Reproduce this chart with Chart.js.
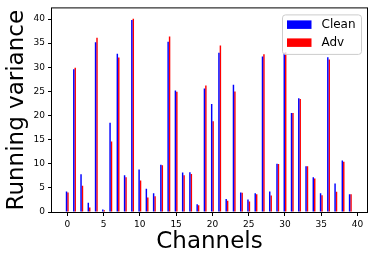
<!DOCTYPE html>
<html>
<head>
<meta charset="utf-8">
<script src="https://cdn.jsdelivr.net/npm/chart.js@4"></script>
<style>
    html, body { margin: 0; padding: 0; background: #ffffff; }
    canvas { display: block; }
</style>
</head>
<body>
<canvas class="var-chart" width="374" height="261"></canvas>
<script>
const channels = [0, 1, 2, 3, 4, 5, 6, 7, 8, 9, 10, 11, 12, 13, 14, 15, 16, 17, 18, 19,
    20, 21, 22, 23, 24, 25, 26, 27, 28, 29, 30, 31, 32, 33, 34, 35, 36, 37, 38, 39];
const cleanVar = [4.25, 29.6, 7.8, 1.9, 35.2, 0.5, 18.5, 32.8, 7.6, 39.8,
    8.8, 4.8, 3.9, 9.8, 35.3, 25.2, 8.2, 8.25, 1.6, 25.6,
    22.4, 33.0, 2.7, 26.4, 4.05, 2.6, 3.9, 32.25, 4.25, 10.0,
    33.0, 20.5, 23.6, 9.5, 7.2, 3.9, 32.1, 5.9, 10.7, 3.7];
const advVar = [4.05, 29.9, 5.45, 0.95, 36.1, 0.35, 14.6, 32.0, 7.2, 40.05,
    6.55, 3.0, 3.25, 9.7, 36.4, 24.95, 7.6, 7.9, 1.4, 26.2,
    18.8, 34.5, 2.35, 25.0, 4.0, 2.2, 3.7, 32.7, 3.4, 9.95,
    33.1, 20.5, 23.4, 9.5, 6.95, 3.45, 31.6, 4.2, 10.4, 3.7];
const xTicks = [0, 5, 10, 15, 20, 25, 30, 35, 40];
const yTicks = [0, 5, 10, 15, 20, 25, 30, 35, 40];

Chart.defaults.font.family = 'DejaVu Sans';
Chart.defaults.color = '#000000';

const ctx = document.querySelector('.var-chart');

// black box round the plot area, like matplotlib spines
const frame = {
    id: 'frame',
    afterDatasetsDraw(chart) {
        const a = chart.chartArea;
        const c = chart.ctx;
        c.save();
        c.strokeStyle = '#000000';
        c.lineWidth = 1;
        c.strokeRect(a.left - 0.5, a.top - 0.5, a.right - a.left + 1, a.bottom - a.top + 1);
        c.restore();
    }
};

// legend drawn inside the plot, upper right
const boxLegend = {
    id: 'boxLegend',
    afterDraw(chart) {
        const a = chart.chartArea;
        const c = chart.ctx;
        const w = 79, h = 39.5;
        const x = a.right - 6 - w;
        const y = a.top + 6;
        c.save();
        c.beginPath();
        c.roundRect(x + 0.5, y + 0.5, w, h, 3);
        c.fillStyle = 'rgba(255,255,255,0.8)';
        c.fill();
        c.strokeStyle = '#cccccc';
        c.lineWidth = 1;
        c.stroke();
        c.font = '12px "DejaVu Sans"';
        c.textBaseline = 'middle';
        chart.data.datasets.forEach((ds, i) => {
            const rowY = y + 6 + i * 18;
            c.fillStyle = ds.backgroundColor;
            c.fillRect(x + 5, rowY, 24.5, 8.5);
            c.fillStyle = '#000000';
            c.fillText(ds.label, x + 39.5, rowY + 4.5);
        });
        c.restore();
    }
};

new Chart(ctx, {
    type: 'bar',
    data: {
        datasets: [{
            label: 'Clean',
            data: channels.map((ch, i) => ({ x: ch, y: cleanVar[i] })),
            backgroundColor: '#0000ff',
            borderWidth: 0
        },
        {
            label: 'Adv',
            data: channels.map((ch, i) => ({ x: ch, y: advVar[i] })),
            backgroundColor: '#ff0000',
            borderWidth: 0
        }]
    },
    options: {
        responsive: false,
        animation: false,
        devicePixelRatio: 1,
        categoryPercentage: 0.4,
        barPercentage: 1,
        layout: {
            padding: { left: 0, right: 7, top: 7, bottom: 0 }
        },
        scales: {
            x: {
                type: 'linear',
                offset: false,
                min: -2.1,
                max: 41.3,
                afterBuildTicks: (scale) => { scale.ticks = xTicks.map(v => ({ value: v })); },
                afterFit: (scale) => { scale.height = 49; },
                border: { display: false },
                grid: {
                    offset: false,
                    drawOnChartArea: false,
                    drawTicks: true,
                    tickLength: 4,
                    color: '#000000'
                },
                ticks: {
                    font: { size: 9 },
                    padding: 3,
                    maxRotation: 0
                },
                title: {
                    display: true,
                    text: 'Channels',
                    font: { size: 23 },
                    padding: { top: 0, bottom: 5 }
                }
            },
            y: {
                min: 0,
                max: 42.2,
                afterBuildTicks: (scale) => { scale.ticks = yTicks.map(v => ({ value: v })); },
                afterFit: (scale) => { scale.width = 52; },
                border: { display: false },
                grid: {
                    drawOnChartArea: false,
                    drawTicks: true,
                    tickLength: 4,
                    color: '#000000'
                },
                ticks: {
                    font: { size: 9 },
                    padding: 3
                },
                title: {
                    display: true,
                    text: 'Running variance',
                    font: { size: 23 },
                    padding: { top: 3, bottom: 0 }
                }
            }
        },
        plugins: {
            legend: { display: false },
            tooltip: { enabled: false }
        }
    },
    plugins: [frame, boxLegend]
});
</script>
</body>
</html>
